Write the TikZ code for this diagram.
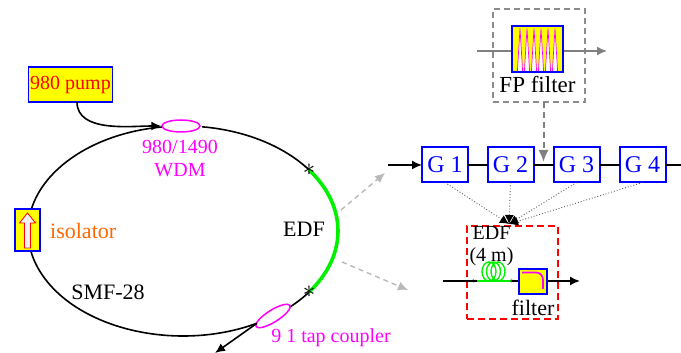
\documentclass[tikz,border=0pt]{standalone}
\usepackage{fontspec}
\setmainfont{Liberation Serif}
\usetikzlibrary{shapes.geometric, arrows.meta, positioning, calc}
\definecolor{pumpyellow}{RGB}{255,255,0}
\definecolor{darkblue}{RGB}{0,0,255}
\definecolor{isoorange}{RGB}{255,102,0}
\definecolor{edfgreen}{RGB}{0,240,0}
\definecolor{pinkline}{RGB}{255,0,255}
\begin{document}
\begin{tikzpicture}[
        x=1pt, y=1pt,
        fiber/.style={line width=1.6pt, black},
        arrow/.style={-{Latex[length=10pt,width=9pt]}, line width=1.6pt, black},
        edf/.style={line width=3.6pt, edfgreen},
        comp/.style={rectangle, draw=darkblue, fill=pumpyellow, line width=1.2pt, inner sep=0pt},
        gain/.style={rectangle, draw=darkblue, fill=white, minimum width=46pt, minimum height=35pt, inner sep=0pt, outer sep=0pt, line width=2pt, text=darkblue, font=\fontsize{24}{24}\selectfont},
        txt/.style={inner sep=0pt, font=\fontsize{22}{24}\selectfont, align=center},
        coupler/.style={ellipse, draw=pinkline, fill=white, line width=1.5pt, inner sep=0pt},
        splice/.style={black, inner sep=0pt, font=\fontsize{26}{26}\selectfont},
        greyarrow/.style={-{Latex[length=10pt,width=9pt]}, dashed, dash pattern=on 5pt off 4pt, line width=1.4pt, black!28},
        probe/.style={-{Latex[length=9pt,width=9pt,black]}, dotted, line width=0.9pt, black!65}
    ]
    \useasboundingbox (0,0) rectangle (681,353);
    \coordinate (c) at (183,122);

    % ring
    \coordinate (wdmin) at ($(c)+(97:155 and 105)$);
    \coordinate (wdmout) at ($(c)+(83:155 and 105)$);
    \coordinate (edfa) at ($(c)+(35.6:155 and 105)$);
    \coordinate (edfb) at ($(c)+(-35.6:155 and 105)$);
    \coordinate (tapa) at ($(c)+(-46.4:155 and 105)$);
    \coordinate (tapb) at ($(c)+(-61.5:155 and 105)$);
    \draw[fiber] (wdmout) arc[start angle=83, end angle=35.6, x radius=155, y radius=105];
    \draw[edf] (edfa) arc[start angle=35.6, end angle=-35.6, x radius=155, y radius=105];
    \draw[fiber] (edfb) arc[start angle=-35.6, end angle=-46.4, x radius=155, y radius=105];
    \draw[fiber] (tapb) arc[start angle=-61.5, end angle=-180, x radius=155, y radius=105];
    \draw[fiber] ($(c)+(180:155 and 105)$) arc[start angle=180, end angle=97, x radius=155, y radius=105];

    \node[coupler, minimum width=38pt, minimum height=12pt] (wdm) at (181,227) {};
    \node[coupler, minimum width=40pt, minimum height=12pt, rotate=32] (tap) at (273,37) {};

    \node[comp, minimum width=84pt, minimum height=35pt, text=red, font=\fontsize{20}{20}\selectfont] (pump) at (70.5,268.5) {980 pump};
    \coordinate (pumpout) at (77,251);
    \draw[arrow] (pumpout) to[out=-90, in=180, looseness=0.9] (wdm.west);

    % isolator
    \node[comp, minimum width=25pt, minimum height=42pt, line width=1.4pt] (iso) at (27.5,123) {};
    \draw[red, fill=black!5, line width=0.8pt] (24.5,105) -- (30.5,105) -- (30.5,130) -- (35.5,130) -- (27.5,140) -- (19.5,130) -- (24.5,130) -- cycle;

    \node[splice] (marka) at (edfa) {$*$};
    \node[splice] (markb) at (edfb) {$*$};

    \coordinate (tapout) at (215,0);
    \draw[arrow] (tapb) -- (tapout);

    \node[txt, text=pinkline, font=\fontsize{20}{23}\selectfont] (wdmlabel) at (180,194) {980/1490\\WDM};
    \node[txt, text=isoorange, anchor=west] (isolabel) at (50,122) {isolator};
    \node[txt] (edflabel) at (304,124) {EDF};
    \node[txt] (smflabel) at (108,61) {SMF-28};
    \node[txt, text=pinkline, font=\fontsize{20}{20}\selectfont] (taplabel) at (331,15) {9 1 tap coupler};

    % gain stages
    \node[gain] (g1) at (445,188) {G 1};
    \node[gain, right=19.5pt of g1] (g2) {G 2};
    \node[gain, right=20pt of g2] (g3) {G 3};
    \node[gain, right=20pt of g3] (g4) {G 4};
    \coordinate (chainin) at (388,188);
    \coordinate (chainout) at (681,188);
    \draw[arrow] (chainin) -- (g1);
    \draw[fiber] (g1) -- (g2);
    \draw[fiber] (g2) -- (g3);
    \draw[fiber] (g3) -- (g4);
    \draw[fiber] (g4) -- (chainout);

    % FP filter
    \node[rectangle, draw=black!45, dashed, dash pattern=on 6pt off 4pt, line width=1.8pt, minimum width=92pt, minimum height=93pt, outer sep=0pt] (fpbox) at (539,297.5) {};
    \coordinate (fpin) at (477,302);
    \coordinate (fpout) at (607,302);
    \draw[-{Latex[length=10pt,width=9pt]}, line width=1.5pt, black!50] (fpin) -- (fpout);
    \node[comp, minimum width=51pt, minimum height=46pt] (fp) at (537.5,304) {};
    \foreach \px in {520,527,534,541,548,555} {
        \draw[pinkline, fill=white, line width=0.7pt] (\px-2.6,282) -- (\px,324.5) -- (\px+2.6,282);
    }
    \node[txt, font=\fontsize{23}{24}\selectfont] (fplabel) at (537.5,268) {FP filter};
    \draw[-{Latex[length=12pt,width=10pt]}, dashed, dash pattern=on 6pt off 4pt, line width=2pt, black!50] (fpbox.south -| g3.west) ++(-10,0) -- ++(0,-60);

    % EDF stage
    \node[rectangle, draw=red, dashed, dash pattern=on 7pt off 4pt, line width=1.6pt, minimum width=91pt, minimum height=93pt] (stage) at (512.5,80.5) {};
    \coordinate (stagein) at (443,72);
    \coordinate (stageout) at (580,72);
    \draw[arrow] (stagein) -- (stageout);
    \draw[line width=1.5pt, edfgreen] (477,72) -- (512,72);
    \foreach \cx in {489,493.5,498} {
        \draw[line width=1.4pt, edfgreen] (\cx,81.5) ellipse[x radius=7, y radius=9.5];
    }
    \node[black, inner sep=0pt, font=\fontsize{9}{9}\selectfont] (marke) at (474,72) {$*$};
    \node[black, inner sep=0pt, font=\fontsize{9}{9}\selectfont] (markf) at (512,72) {$*$};
    \node[comp, minimum width=28pt, minimum height=25pt] (bpf) at (533,71.5) {};
    \draw[pinkline, line width=1.7pt, rounded corners=7pt] (522,80.5) -- (543,80.5) -- (543,64);
    \node[txt, font=\fontsize{20}{22}\selectfont] (edfstage) at (491.5,107) {EDF\\(4 m)};
    \node[txt] (filterlabel) at (533,45) {filter};

    \coordinate (probetip) at (509,129);
    \draw[probe] (g1.south) -- (probetip);
    \draw[probe] (g2.south) -- (probetip);
    \draw[probe] (g3.south) -- (probetip);
    \draw[probe] (g4.south) -- (probetip);

    % to the magnified parts
    \coordinate (upa) at (341,143);
    \coordinate (upb) at (385,180);
    \coordinate (dna) at (342,91);
    \coordinate (dnb) at (408,63);
    \draw[greyarrow] (upa) -- (upb);
    \draw[greyarrow] (dna) -- (dnb);
\end{tikzpicture}
\end{document}
